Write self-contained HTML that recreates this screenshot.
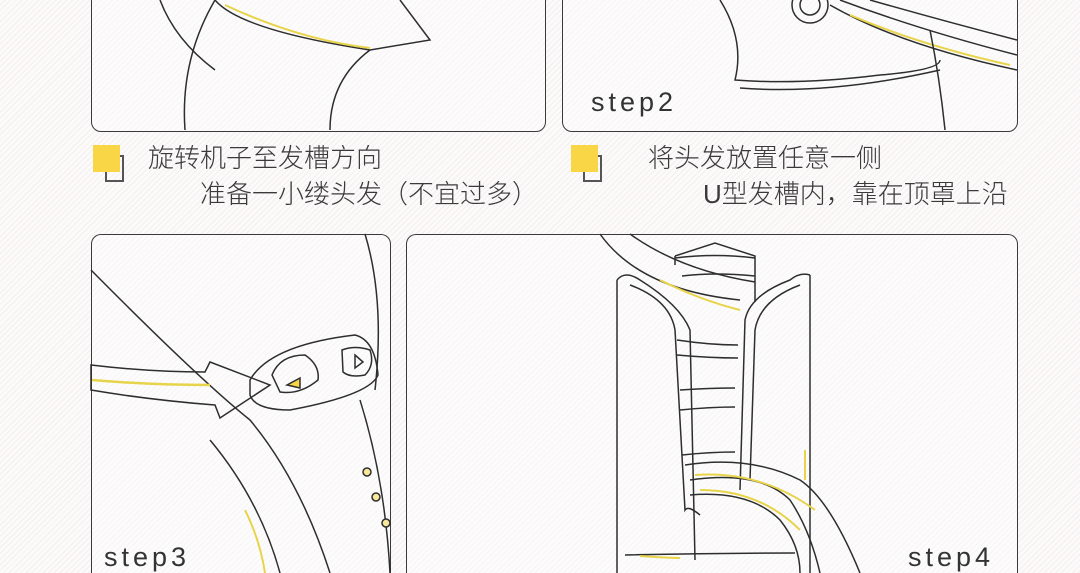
<!DOCTYPE html>
<html><head><meta charset="utf-8"><style>
html{width:1080px;height:573px;overflow:hidden}
html,body{margin:0;padding:0}
body{width:1080px;height:573px;overflow:hidden;position:relative;font-family:"Liberation Sans","Noto Sans CJK SC",sans-serif;
background:#fcfafa repeating-linear-gradient(135deg,#fcfafa 0 3px,#f3efef 3px 4px);}
.p{position:absolute;border:1.5px solid #3a3a3a;border-radius:10px;background:rgba(255,255,255,0.35)}
.t{position:absolute;font-size:26px;color:#3a3a3a;white-space:nowrap;line-height:1;font-weight:300}
.s{position:absolute;font-size:27px;color:#333;letter-spacing:4px;line-height:1}
.ic{position:absolute;width:28px;height:28px}
.ic .y{position:absolute;left:0;top:0;width:27px;height:27px;background:#f8d645}
.ic .b{position:absolute;left:12px;top:10px;width:17px;border-right:2px solid #555;border-bottom:2px solid #555;height:25px}
.ic .b:before{content:"";position:absolute;right:-2px;top:0;width:6px;border-top:2px solid #555}
.ic .b:after{content:"";position:absolute;left:0;bottom:0;height:8px;border-left:2px solid #555}
svg{position:absolute;left:0;top:0}
</style></head><body>
<div class="p" style="left:91px;top:-20px;width:453px;height:150px"></div>
<div class="p" style="left:562px;top:-20px;width:454px;height:150px"></div>
<div class="p" style="left:91px;top:234px;width:298px;height:330px;border-bottom:none;border-bottom-left-radius:0;border-bottom-right-radius:0;height:345px"></div>
<div class="p" style="left:406px;top:234px;width:610px;height:345px;border-bottom:none;border-bottom-left-radius:0;border-bottom-right-radius:0"></div>

<svg width="1080" height="573" fill="none" stroke="#2e2e2e" stroke-width="1.5">
<path d="M160 0 Q175 40 215 70 M215 0 Q240 30 370 50 L430 40 Q415 20 400 0"/>
<path d="M215 0 Q180 60 185 130 M370 50 Q330 80 330 130"/>
<path d="M225 5 Q300 40 370 48" stroke="#e8d44a" stroke-width="2"/>
<path d="M720 0 Q745 40 735 80 Q800 85 880 75 Q940 70 940 60 M740 88 Q830 95 940 70"/>
<circle cx="810" cy="5" r="18"/><circle cx="810" cy="5" r="10"/>
<path d="M830 5 Q900 45 1017 70 M840 0 Q920 30 1017 55 M870 0 Q940 20 1017 40"/>
<path d="M850 15 Q920 45 1010 65" stroke="#e8d44a" stroke-width="2"/>
<path d="M930 30 Q940 80 945 130"/>
<path d="M91 270 Q200 380 250 420 Q300 480 330 573 M210 440 Q260 500 280 573"/>
<path d="M91 365 Q150 372 205 372 L210 362 L270 385 L220 418 L215 405 Q150 400 91 390 Z"/>
<path d="M92 380 Q150 385 210 385" stroke="#e8d44a" stroke-width="2.5"/>
<path d="M250 380 Q270 345 355 335 Q375 340 378 375 Q370 395 290 410 Q255 410 250 395 Z"/>
<path d="M272 375 Q280 355 305 355 Q320 365 318 380 Q300 395 280 392 Z"/>
<path d="M287 385 L300 378 L300 388 Z" fill="#f8d645"/>
<path d="M342 350 Q355 345 370 350 Q375 365 365 375 Q350 378 343 372 Z"/>
<path d="M355 355 L363 362 L355 368 Z"/>
<path d="M365 234 Q385 300 375 390 M360 400 Q385 480 390 573"/>
<circle cx="367" cy="472" r="4" fill="#f8e89a"/><circle cx="376" cy="497" r="4" fill="#f8e89a"/><circle cx="386" cy="523" r="4" fill="#f8e89a"/>
<path d="M245 510 Q260 540 265 573" stroke="#e8d44a" stroke-width="2"/>
<path d="M675 256 L715 243 L755 256 L755 302 M675 256 L675 265 M675 258 Q715 253 755 258 M682 276 Q715 272 755 276"/>
<path d="M617 280 L617 573 M810 275 L810 573 M617 280 Q625 270 640 280 Q680 305 690 330 L695 560 M810 275 Q800 272 790 280 Q750 295 745 320 L740 490"/>
<path d="M630 285 Q670 300 675 330 L685 510 Q688 505 700 515 M800 285 Q760 300 755 330 L750 480"/>
<path d="M677 340 Q710 345 738 345 M677 355 Q710 358 738 358 M680 390 Q710 388 735 388 M680 410 Q710 407 735 407 M682 455 Q710 452 735 452"/>
<path d="M600 234 Q640 290 740 300 M630 234 Q680 270 755 282"/>
<path d="M660 280 Q700 300 740 310" stroke="#e8d44a" stroke-width="2"/>
<path d="M685 465 Q750 455 800 480 Q830 500 860 573 M690 480 Q760 470 790 500 Q810 530 820 573 M690 495 Q750 490 780 520 Q800 545 800 573"/>
<path d="M695 475 Q760 470 815 510 M700 490 Q760 490 800 530" stroke="#e8d44a" stroke-width="2"/>
<path d="M625 555 Q710 553 795 553"/>
<path d="M640 556 Q670 558 680 558" stroke="#e8d44a" stroke-width="2"/>
<path d="M805 450 L805 480" stroke="#e8d44a" stroke-width="2"/>
</svg>

<div class="s" style="left:591px;top:89px">step2</div>
<div class="s" style="left:104px;top:544px">step3</div>
<div class="s" style="left:908px;top:544px">step4</div>

<div class="ic" style="left:93px;top:145px"><div class="b"></div><div class="y"></div></div>
<div class="ic" style="left:571px;top:145px"><div class="b"></div><div class="y"></div></div>
<div class="t" style="left:148px;top:145px">旋转机子至发槽方向</div>
<div class="t" style="left:200px;top:181px">准备一小缕头发（不宜过多）</div>
<div class="t" style="left:648px;top:145px">将头发放置任意一侧</div>
<div class="t" style="left:703px;top:181px">U型发槽内，靠在顶罩上沿</div>
</body></html>
